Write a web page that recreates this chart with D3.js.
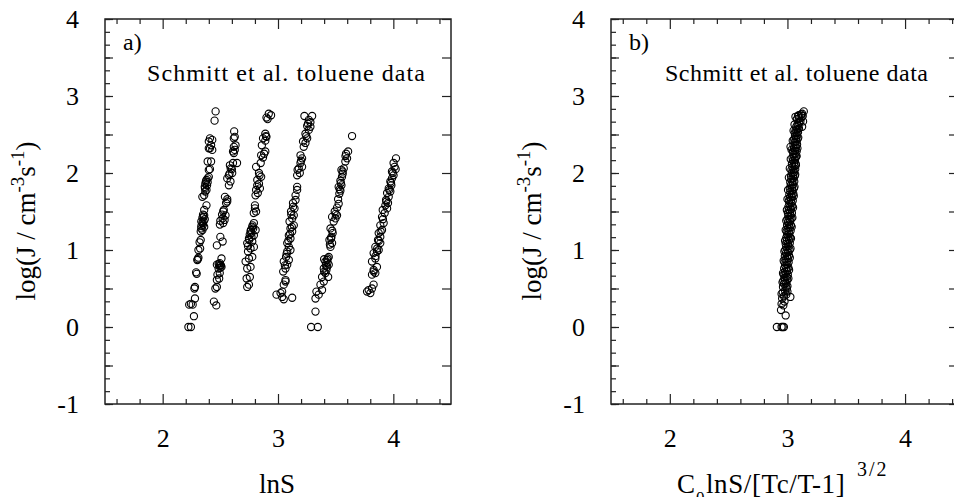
<!DOCTYPE html>
<html>
<head>
<meta charset="utf-8">
<style>
  body { margin: 0; background: #fff; }
  svg { display: block; }
  text { font-family: "Liberation Serif", Tinos, "Times New Roman", Times, serif; fill: #000; }
  .tick line { stroke: #222; stroke-width: 1.2; }
  .domain { display: none; }
  .frame { fill: none; stroke: #222; stroke-width: 1.5; }
  circle.pt { fill: none; stroke: #000; stroke-width: 1.1; }
</style>
</head>
<body>
<svg width="954" height="497"></svg>
<script src="https://cdn.jsdelivr.net/npm/d3@7"></script>
<script>

// tick values
var xMajor = [2, 3, 4];
var xMinor = [1.6, 1.8, 2.2, 2.4, 2.6, 2.8, 3.2, 3.4, 3.6, 3.8, 4.2, 4.4];
var yHalves = [-1, -0.5, 0, 0.5, 1, 1.5, 2, 2.5, 3, 3.5, 4];
var yLabels = [-1, 0, 1, 2, 3, 4];

// panel a) : lnS vs log J, one array per isotherm
var streak1 = [[2.223,0],[2.245,0],[2.271,0.14],[2.23,0.29],[2.245,0.30],[2.26,0.29],[2.28,0.37],[2.275,0.50],[2.28,0.52],
  [2.29,0.71],[2.295,0.69],[2.31,0.90],[2.305,0.88],[2.31,1.0],[2.325,1.02],[2.33,1.13],[2.33,1.24],[2.345,1.26],[2.335,1.28],
  [2.36,1.30],[2.35,1.33],[2.335,1.37],[2.355,1.37],[2.365,1.40],[2.345,1.42],[2.36,1.45],[2.35,1.46],[2.36,1.52],[2.38,1.58],
  [2.344,1.69],[2.36,1.71],[2.37,1.76],[2.367,1.80],[2.385,1.84],[2.37,1.86],[2.375,1.89],[2.39,1.93],[2.38,1.91],[2.40,1.95],
  [2.40,2.04],[2.41,2.05],[2.39,2.15],[2.43,2.30],[2.41,2.32],[2.40,2.41],[2.43,2.43],[2.41,2.45],[2.45,2.68],[2.459,2.80],
  [2.335,1.31],[2.345,1.35],[2.355,1.43],[2.365,1.82],[2.38,1.78],[2.39,1.88],[2.40,2.32],[2.42,2.36],[2.30,0.87],[2.32,1.10],[2.42,2.15]];
var streak2 = [[2.444,0.33],[2.465,0.28],[2.457,0.50],[2.47,0.52],[2.47,0.61],[2.49,0.63],[2.475,0.68],[2.495,0.70],[2.485,0.76],
  [2.505,0.80],[2.47,0.81],[2.495,0.83],[2.51,0.78],[2.50,0.80],[2.51,0.89],[2.47,1.06],[2.52,1.11],[2.50,1.17],[2.496,1.33],
  [2.525,1.35],[2.537,1.39],[2.52,1.41],[2.545,1.45],[2.525,1.50],[2.53,1.52],[2.55,1.61],[2.56,1.63],[2.54,1.69],[2.574,1.84],
  [2.588,1.89],[2.56,1.93],[2.574,1.97],[2.603,2.0],[2.59,2.06],[2.583,2.10],[2.61,2.13],[2.645,2.13],[2.617,2.26],[2.61,2.28],
  [2.617,2.34],[2.632,2.36],[2.617,2.45],[2.625,2.47],[2.62,2.54],
  [2.49,0.80],[2.50,0.77],[2.485,0.82],[2.50,1.38],[2.515,1.46],[2.56,1.66],[2.58,1.99],[2.60,2.05],[2.625,2.30]];
var streak3 = [[2.733,0.52],[2.748,0.55],[2.728,0.63],[2.756,0.65],[2.733,0.76],[2.762,0.78],[2.719,0.85],[2.748,0.89],[2.777,0.91],
  [2.74,0.98],[2.762,1.02],[2.791,1.04],[2.733,1.09],[2.777,1.11],[2.748,1.15],[2.791,1.19],[2.762,1.24],[2.806,1.26],[2.777,1.30],
  [2.791,1.35],[2.77,1.22],[2.755,1.20],[2.785,1.28],[2.79,1.48],[2.81,1.50],[2.80,1.54],[2.805,1.71],[2.825,1.74],[2.81,1.78],
  [2.843,1.80],[2.835,1.86],[2.82,1.91],[2.854,1.95],[2.835,2.0],[2.81,2.08],[2.85,2.13],[2.854,2.23],[2.88,2.25],[2.89,2.28],
  [2.86,2.36],[2.89,2.42],[2.87,2.45],[2.90,2.47],[2.89,2.51],[2.90,2.72],[2.94,2.75],[2.92,2.77],
  [2.75,1.13],[2.77,1.17],[2.765,1.26],[2.78,1.32],[2.74,1.05],[2.80,1.58],[2.82,1.84],[2.84,1.97],[2.87,2.20],[2.895,2.48],[2.91,2.70]];
var streak4 = [[2.987,0.42],[3.036,0.46],[3.05,0.36],[3.123,0.38],[3.022,0.44],[3.036,0.39],[3.065,0.59],[3.05,0.55],[3.065,0.61],
  [3.045,0.72],[3.065,0.76],[3.08,0.81],[3.05,0.85],[3.094,0.87],[3.07,0.91],[3.08,0.98],[3.108,1.0],[3.094,1.04],[3.08,1.09],
  [3.108,1.15],[3.094,1.19],[3.123,1.24],[3.108,1.28],[3.137,1.32],[3.10,1.37],[3.123,1.41],[3.137,1.45],[3.113,1.50],[3.143,1.54],
  [3.13,1.61],[3.152,1.65],[3.152,1.71],[3.166,1.78],[3.166,1.82],[3.166,1.97],[3.189,2.0],[3.17,2.04],[3.209,2.08],[3.195,2.13],
  [3.209,2.19],[3.195,2.23],[3.223,2.34],[3.238,2.39],[3.217,2.41],[3.253,2.45],[3.238,2.51],[3.267,2.56],[3.253,2.61],[3.281,2.66],
  [3.229,2.74],[3.296,2.74],[3.267,2.69],[3.281,2.60],
  [3.06,0.80],[3.075,0.95],[3.09,1.12],[3.105,1.21],[3.12,1.30],[3.115,1.46],[3.13,1.56],[3.18,2.06],[3.20,2.16],[3.245,2.48],[3.26,2.64]];
var streak5 = [[3.287,0],[3.345,0],[3.325,0.2],[3.325,0.37],[3.353,0.42],[3.333,0.46],[3.382,0.48],[3.368,0.55],[3.397,0.59],
  [3.382,0.65],[3.411,0.70],[3.397,0.76],[3.426,0.78],[3.411,0.85],[3.431,0.89],[3.40,0.88],[3.42,0.74],[3.435,0.65],[3.44,0.81],
  [3.426,0.87],[3.44,0.91],[3.455,1.04],[3.469,1.09],[3.446,1.13],[3.463,1.17],[3.474,1.22],[3.455,1.28],[3.483,1.37],[3.498,1.41],
  [3.469,1.43],[3.512,1.45],[3.492,1.50],[3.512,1.55],[3.526,1.60],[3.521,1.66],[3.532,1.73],[3.541,1.77],[3.526,1.82],[3.55,1.84],
  [3.541,1.90],[3.555,1.95],[3.561,1.99],[3.55,2.04],[3.57,2.06],[3.584,2.15],[3.599,2.19],[3.59,2.25],[3.608,2.28],[3.642,2.48],
  [3.415,0.80],[3.43,0.84],[3.40,0.72],[3.45,1.07],[3.46,1.15],[3.47,1.25],[3.50,1.47],[3.535,1.79],[3.545,1.87],[3.56,2.02],[3.585,2.22]];
var streak6 = [[3.772,0.46],[3.801,0.44],[3.786,0.48],[3.815,0.50],[3.829,0.55],[3.815,0.68],[3.844,0.70],[3.829,0.74],[3.858,0.78],
  [3.815,0.85],[3.844,0.89],[3.829,0.96],[3.858,0.98],[3.873,1.0],[3.844,1.04],[3.887,1.09],[3.867,1.13],[3.887,1.17],[3.873,1.22],
  [3.902,1.26],[3.887,1.32],[3.916,1.35],[3.902,1.43],[3.925,1.48],[3.908,1.52],[3.946,1.54],[3.931,1.58],[3.954,1.61],[3.937,1.65],
  [3.96,1.69],[3.946,1.74],[3.974,1.76],[3.96,1.80],[3.983,1.84],[3.974,1.89],[3.988,1.93],[4.002,1.97],[3.988,2.02],[4.011,2.08],
  [4.002,2.13],[4.023,2.19],
  [3.83,0.72],[3.845,0.92],[3.86,1.02],[3.875,1.12],[3.89,1.24],[3.91,1.40],[3.94,1.63],[3.965,1.78],[3.98,1.87],[3.995,2.00],[4.02,2.05]];

// panel b) : the same data against the scaled variable, read as one band
var bandB = [[2.91,0],[2.95,0],[2.96,0],[2.97,0],[2.945,0.22],[2.985,0.15],[2.95,0.30],[2.965,0.28],[2.975,0.33],[3.025,0.39],
  [2.955,0.37],[2.97,0.40],[2.99,0.42],[2.96,0.45],[2.98,0.47],[2.995,0.50],
  [2.962,0.52],[2.985,0.52],[3.0,0.53],[2.97,0.56],[2.99,0.57],[2.965,0.60],[2.98,0.60],[2.998,0.61],[2.975,0.64],[2.993,0.65],
  [2.968,0.68],[2.985,0.69],[3.003,0.68],[2.978,0.72],[2.996,0.73],[2.972,0.76],[2.99,0.76],[3.008,0.77],[2.98,0.80],[3.0,0.81],
  [2.975,0.84],[2.993,0.85],[3.01,0.84],[2.984,0.88],[3.004,0.89],[2.978,0.92],[2.997,0.92],[3.013,0.93],[2.988,0.96],[3.006,0.97],
  [2.982,1.0],[3.0,1.01],[3.018,1.0],[2.99,1.04],[3.01,1.05],[2.985,1.08],[3.004,1.08],[3.02,1.09],[2.995,1.12],[3.013,1.13],
  [2.99,1.16],[3.008,1.17],[3.024,1.16],[2.998,1.20],[3.016,1.21],[2.993,1.24],[3.01,1.24],[3.027,1.25],[3.002,1.28],[3.02,1.29],
  [2.997,1.32],[3.014,1.33],[3.03,1.32],[3.005,1.36],[3.023,1.37],[3.0,1.40],[3.018,1.40],[3.034,1.41],[3.008,1.44],[3.026,1.45],
  [3.004,1.48],[3.022,1.49],[3.038,1.48],[3.012,1.52],[3.03,1.53],[3.008,1.56],[3.025,1.56],[3.041,1.57],[3.016,1.60],[3.034,1.61],
  [3.012,1.64],[3.03,1.65],[3.045,1.64],[3.02,1.68],[3.038,1.69],[3.016,1.72],[3.034,1.72],[3.05,1.73],[3.025,1.76],[3.042,1.77],
  [3.02,1.80],[3.038,1.81],[3.054,1.80],[3.028,1.84],[3.046,1.85],[3.024,1.88],[3.042,1.88],[3.058,1.89],[3.033,1.92],[3.05,1.93],
  [3.03,1.96],[3.047,1.97],[3.062,1.96],[3.037,2.0],[3.055,2.01],[3.034,2.04],[3.051,2.04],[3.066,2.05],[3.042,2.08],[3.06,2.09],
  [3.038,2.12],[3.056,2.13],[3.07,2.12],[3.046,2.16],[3.064,2.17],[3.043,2.20],[3.06,2.20],[3.074,2.21],[3.05,2.24],[3.068,2.25],
  [3.047,2.28],[3.064,2.29],[3.078,2.28],[3.055,2.32],[3.072,2.33],[3.026,2.34],[3.052,2.36],[3.068,2.36],[3.082,2.37],[3.06,2.40],
  [3.076,2.41],[3.057,2.44],[3.072,2.45],[3.086,2.44],[3.064,2.48],[3.08,2.49],[3.062,2.52],[3.077,2.52],[3.09,2.53],[3.07,2.56],
  [3.085,2.57],[3.075,2.60],[3.092,2.61],[3.125,2.60],[3.11,2.67],[3.133,2.67],[3.08,2.70],[3.1,2.71],[3.068,2.73],[3.09,2.74],
  [3.096,2.75],[3.115,2.76],[3.125,2.77],[3.139,2.80],
  [2.95,0.43],[3.0,0.46],[2.958,0.58],[3.008,0.63],[2.962,0.70],[3.014,0.74],[2.968,0.86],[3.02,0.90],[2.974,0.98],[3.026,1.02],
  [2.98,1.12],[3.03,1.15],[2.985,1.26],[3.036,1.30],[2.99,1.38],[3.042,1.42],[2.995,1.52],[3.048,1.55],[3.0,1.66],[3.054,1.70],
  [3.005,1.78],[3.06,1.82],[3.012,1.94],[3.066,1.98],[3.02,2.06],[3.072,2.10],[3.028,2.18],[3.078,2.22],[3.035,2.30],[3.085,2.32],
  [3.045,2.42],[3.092,2.46],[3.052,2.55],[3.098,2.58],[3.06,2.63],[3.10,2.65],[3.085,2.63],[3.12,2.72],[3.13,2.74]];

var svg = d3.select("svg");
var plotTop = 19, plotBottom = 404;
var ySixths = d3.range(-1, 4.001, 1 / 6);

function drawPanel(o) {
  var x = d3.scaleLinear().domain(o.xDomain).range([o.left, o.right]);
  var y = d3.scaleLinear().domain([-1, 4]).range([plotBottom, plotTop]);
  var g = svg.append("g");

  // bottom axis
  g.append("g").attr("transform", "translate(0," + plotBottom + ")")
    .call(d3.axisBottom(x).tickValues(xMinor).tickSize(-5).tickFormat(""));
  g.append("g").attr("transform", "translate(0," + plotBottom + ")")
    .call(d3.axisBottom(x).tickValues(xMajor).tickSize(-10).tickPadding(25).tickFormat(function(d) { return String(d); }))
    .attr("font-size", 26).attr("font-family", null);
  // top axis
  g.append("g").attr("transform", "translate(0," + plotTop + ")")
    .call(d3.axisTop(x).tickValues(xMinor).tickSize(-5).tickFormat(""));
  g.append("g").attr("transform", "translate(0," + plotTop + ")")
    .call(d3.axisTop(x).tickValues(xMajor).tickSize(-10).tickFormat(""));
  // left axis
  g.append("g").attr("transform", "translate(" + o.left + ",0)")
    .call(d3.axisLeft(y).tickValues(ySixths).tickSize(-5).tickFormat(""));
  g.append("g").attr("transform", "translate(" + o.left + ",0)")
    .call(d3.axisLeft(y).tickValues(yHalves).tickSize(-8).tickPadding(26)
      .tickFormat(function(d) { return yLabels.indexOf(d) >= 0 ? String(d) : ""; }))
    .attr("font-size", 26).attr("font-family", null);
  // right axis
  g.append("g").attr("transform", "translate(" + o.right + ",0)")
    .call(d3.axisRight(y).tickValues(yHalves).tickSize(-9).tickFormat(""));

  g.append("rect").attr("class", "frame")
    .attr("x", o.left).attr("y", plotTop)
    .attr("width", o.right - o.left).attr("height", plotBottom - plotTop);

  o.series.forEach(function(s) {
    g.append("g").selectAll("circle").data(s).enter().append("circle")
      .attr("class", "pt")
      .attr("cx", function(d) { return x(d[0]); })
      .attr("cy", function(d) { return y(d[1]); })
      .attr("r", 3.6);
  });

  g.append("text").attr("x", o.left + 18).attr("y", 50)
    .attr("font-size", 24).text(o.tag);
  g.append("text").attr("x", o.titleX).attr("y", 81)
    .attr("font-size", 24).attr("textLength", o.titleLen).attr("lengthAdjust", "spacing")
    .text("Schmitt et al. toluene data");

  // y title
  var yt = g.append("text")
    .attr("transform", "translate(" + (o.left - 70) + ",221) rotate(-90)")
    .attr("text-anchor", "middle").attr("font-size", 27);
  yt.append("tspan").text("log(J / cm");
  yt.append("tspan").attr("dy", -11).attr("font-size", 19).text("-3");
  yt.append("tspan").attr("dy", 11).text("s");
  yt.append("tspan").attr("dy", -11).attr("font-size", 19).text("-1");
  yt.append("tspan").attr("dy", 11).text(")");

  return x;
}

drawPanel({ left: 105, right: 451, xDomain: [1.5, 4.5], tag: "a)", titleX: 147, titleLen: 278,
  series: [streak1, streak2, streak3, streak4, streak5, streak6] });
drawPanel({ left: 611, right: 958, xDomain: [1.5, 4.45], tag: "b)", titleX: 665, titleLen: 263,
  series: [bandB] });

// x titles
svg.append("text").attr("x", 277).attr("y", 493).attr("text-anchor", "middle")
  .attr("font-size", 27).text("lnS");

var xt = svg.append("text").attr("y", 493).attr("font-size", 27);
xt.append("tspan").attr("x", 677).text("C");
xt.append("tspan").attr("x", 696).attr("dy", 10).attr("font-size", 17).text("0");
xt.append("tspan").attr("x", 706).attr("dy", -10).attr("letter-spacing", 0.6).text("lnS/[Tc/T-1]");
xt.append("tspan").attr("x", 857).attr("dy", -17).attr("font-size", 20).attr("letter-spacing", 2).text("3/2");

</script>
</body>
</html>
